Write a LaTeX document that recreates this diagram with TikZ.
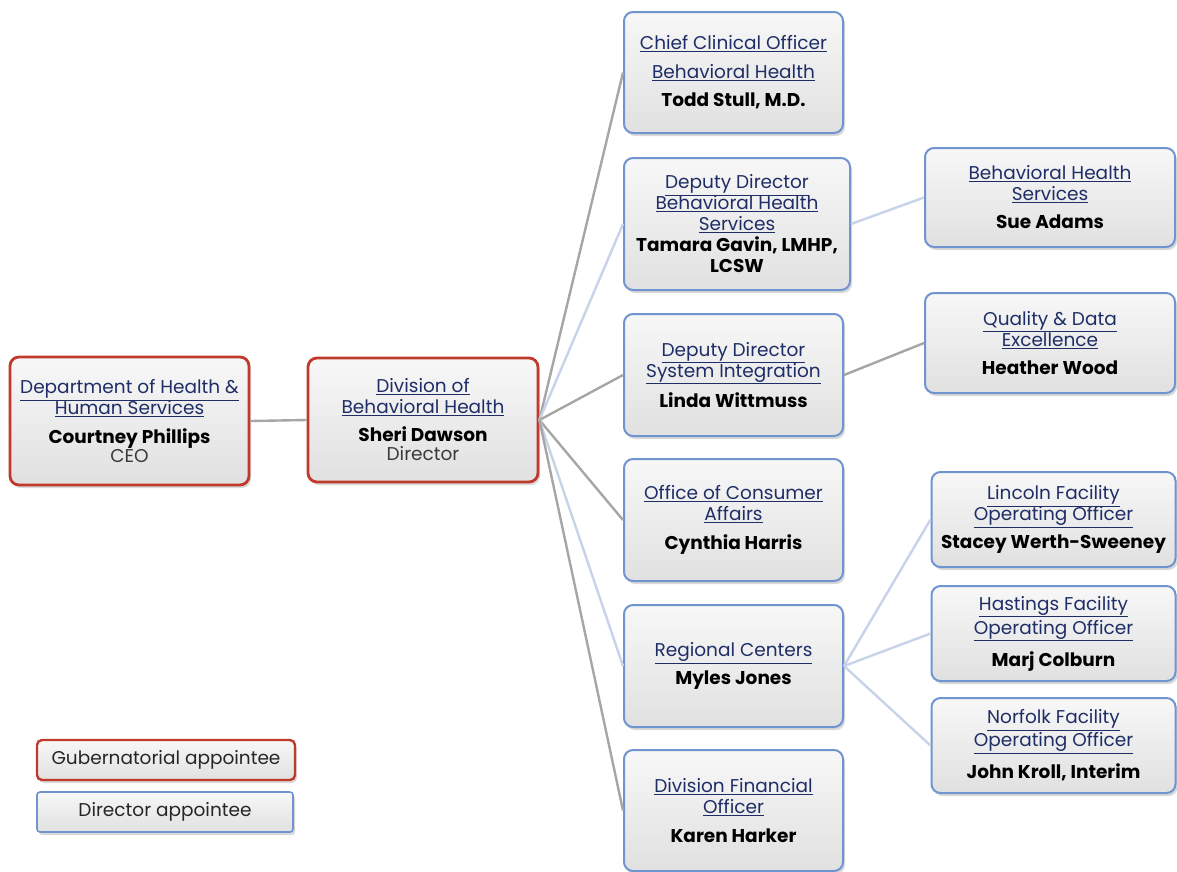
\documentclass[tikz,border=0pt]{standalone}
\usepackage{fontspec}
\setmainfont{Poppins}
\usetikzlibrary{shadows}
\definecolor{navy}{HTML}{1F2D66}
\definecolor{redb}{HTML}{C0392B}
\definecolor{blueb}{HTML}{7094D0}
\definecolor{lgray}{HTML}{A6A6A6}
\definecolor{lblue}{HTML}{C8D3EA}
\definecolor{rolec}{HTML}{3A3A3A}
\newcommand{\ti}[1]{{\color{navy}\underline{#1}}}
\newcommand{\nm}[1]{{\bfseries #1}}
\newcommand{\rl}[1]{{\color{rolec}#1}}
\tikzset{
  box/.style={rounded corners=9pt, top color=black!3, bottom color=black!12,
    align=center, inner sep=2pt, font=\fontsize{18.5}{21}\selectfont,
    drop shadow={opacity=0.3, shadow xshift=2pt, shadow yshift=-3pt}},
  gov/.style={box, draw=redb, line width=2.8pt},
  dir/.style={box, draw=blueb, line width=2pt},
  gline/.style={draw=lgray, line width=2.4pt},
  bline/.style={draw=lblue, line width=2.4pt},
  legtext/.style={font=\fontsize{18.5}{20}\selectfont, text=black!85}
}
\begin{document}
\begin{tikzpicture}[x=1pt,y=-1pt]
\useasboundingbox (0,0) rectangle (1177,871);
% left
\node[gov, minimum width=239pt, minimum height=128pt] (dhhs) at (129.5,421)
  {\ti{Department of Health \&}\\ \ti{Human Services}\\[8pt] \nm{Courtney Phillips}\\[-2pt] \rl{CEO}};
\node[gov, minimum width=230pt, minimum height=124pt] (dbh) at (423,420)
  {\ti{Division of}\\ \ti{Behavioral Health}\\[7pt] \nm{Sheri Dawson}\\[-2pt] \rl{Director}};
% middle column
\node[dir, minimum width=219pt, minimum height=121pt] (cco) at (733.5,72.5)
  {\ti{Chief Clinical Officer}\\[8pt] \ti{Behavioral Health}\\[7pt] \nm{Todd Stull, M.D.}};
\node[dir, minimum width=226pt, minimum height=132pt] (ddbhs) at (737,224)
  {\ti{Deputy Director}\\ \ti{Behavioral Health}\\ \ti{Services}\\ \nm{Tamara Gavin, LMHP,}\\ \nm{LCSW}};
\node[dir, minimum width=219pt, minimum height=122pt] (ddsi) at (733.5,375)
  {\ti{Deputy Director}\\ \ti{System Integration}\\[8pt] \nm{Linda Wittmuss}};
\node[dir, minimum width=219pt, minimum height=122pt] (oca) at (733.5,520)
  {\ti{Office of Consumer}\\ \ti{Affairs}\\[8pt] \nm{Cynthia Harris}};
\node[dir, minimum width=219pt, minimum height=122pt] (rc) at (733.5,666)
  {\ti{Regional Centers}\\[7pt] \nm{Myles Jones}};
\node[dir, minimum width=219pt, minimum height=121pt] (dfo) at (733.5,810.5)
  {\ti{Division Financial}\\ \ti{Officer}\\[8pt] \nm{Karen Harker}};
% right column
\node[dir, minimum width=250pt, minimum height=99pt] (bhs) at (1050,197.5)
  {\ti{Behavioral Health}\\ \ti{Services}\\[7pt] \nm{Sue Adams}};
\node[dir, minimum width=250pt, minimum height=100pt] (qde) at (1050,343)
  {\ti{Quality \& Data}\\ \ti{Excellence}\\[7pt] \nm{Heather Wood}};
\node[dir, minimum width=244pt, minimum height=95pt] (lfo) at (1053.5,519.5)
  {\ti{Lincoln Facility}\\ \ti{Operating Officer}\\[7pt] \nm{Stacey Werth-Sweeney}};
\node[dir, minimum width=244pt, minimum height=95pt] (hfo) at (1053.5,633.5)
  {\ti{Hastings Facility}\\[2pt] \ti{Operating Officer}\\[9pt] \nm{Marj Colburn}};
\node[dir, minimum width=244pt, minimum height=95pt] (nfo) at (1053.5,745.5)
  {\ti{Norfolk Facility}\\[2pt] \ti{Operating Officer}\\[9pt] \nm{John Kroll, Interim}};
% legend
\node[gov, line width=2.4pt, legtext, minimum width=258pt, minimum height=40pt, rounded corners=5pt] (leg1) at (166,760) {Gubernatorial appointee};
\node[dir, line width=1.6pt, legtext, minimum width=256pt, minimum height=40pt, rounded corners=3pt] (leg2) at (165,812) {Director appointee};
% connectors
\draw[gline] (dhhs.east) -- (dbh.west);
\draw[gline] (dbh.east) -- (cco.west);
\draw[bline] (dbh.east) -- (ddbhs.west);
\draw[gline] (dbh.east) -- (ddsi.west);
\draw[gline] (dbh.east) -- (oca.west);
\draw[bline] (dbh.east) -- (rc.west);
\draw[gline] (dbh.east) -- (dfo.west);
\draw[bline] (ddbhs.east) -- (bhs.west);
\draw[gline] (ddsi.east) -- (qde.west);
\draw[bline] (rc.east) -- (lfo.west);
\draw[bline] (rc.east) -- (hfo.west);
\draw[bline] (rc.east) -- (nfo.west);
\end{tikzpicture}
\end{document}
